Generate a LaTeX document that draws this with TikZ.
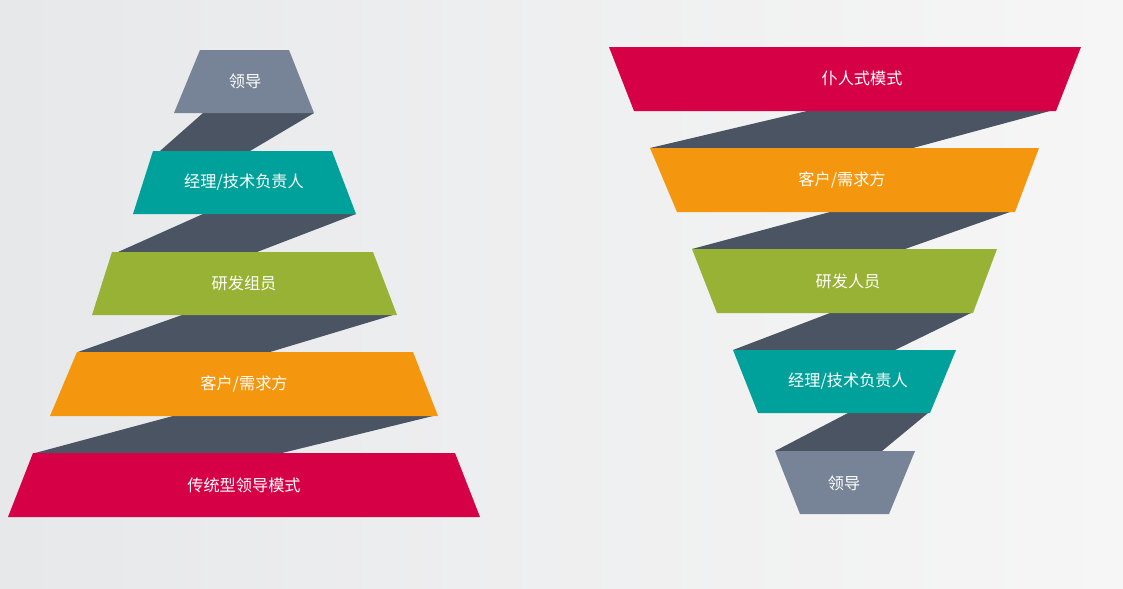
\documentclass[tikz,border=0pt]{standalone}
\usepackage{fontspec}
\newfontfamily\cjk{Noto Sans CJK SC}

\definecolor{bandgrey}{RGB}{119,131,150}
\definecolor{bandteal}{RGB}{0,161,154}
\definecolor{bandgreen}{RGB}{151,178,52}
\definecolor{bandorange}{RGB}{245,150,15}
\definecolor{bandred}{RGB}{213,0,69}
\definecolor{ribbon}{RGB}{74,84,98}
\definecolor{bgleft}{RGB}{231,232,234}
\definecolor{bgright}{RGB}{246,246,246}

\begin{document}
\begin{tikzpicture}[ x=0.025cm, y=-0.025cm,
    band/.style = { draw=none },
    fold/.style = { fill=ribbon, draw=none },
    label/.style = { text=white, font=\cjk\fontsize{11.5}{13}\selectfont, inner sep=0pt } ]

% Hintergrund

    \useasboundingbox (0 , 0) rectangle (1123 , 588);
    \shade[left color=bgleft, right color=bgright] (0 , 0) rectangle (1123 , 588);

% Pyramide links: Falten

    \fill[fold] (203 , 113) -- (314 , 113) -- (250 , 151) -- (160 , 151) -- cycle;
    \fill[fold] (203 , 214) -- (356 , 214) -- (257 , 252) -- (118 , 252) -- cycle;
    \fill[fold] (182 , 315) -- (393 , 315) -- (270 , 352) -- (78 , 352) -- cycle;
    \fill[fold] (173 , 416) -- (433 , 416) -- (282 , 453) -- (35 , 453) -- cycle;

% Pyramide links: Stufen

    \fill[band, bandgrey]   (200 , 50)  -- (289 , 50)  -- (314 , 113) -- (174 , 113) -- cycle;
    \fill[band, bandteal]   (153 , 151) -- (332 , 151) -- (356 , 214) -- (133 , 214) -- cycle;
    \fill[band, bandgreen]  (112 , 252) -- (373 , 252) -- (397 , 315) -- (92 , 315)  -- cycle;
    \fill[band, bandorange] (77 , 352)  -- (413 , 352) -- (438 , 416) -- (50 , 416)  -- cycle;
    \fill[band, bandred]    (33 , 453)  -- (455 , 453) -- (480 , 517) -- (8 , 517)   -- cycle;

    \node[label] (lead) at (245 , 81)  { 领导 };
    \node[label] (mgr)  at (244 , 182) { 经理/技术负责人 };
    \node[label] (dev)  at (244 , 283) { 研发组员 };
    \node[label] (cust) at (244 , 384) { 客户/需求方 };
    \node[label] (trad) at (244 , 485) { 传统型领导模式 };

% Trichter rechts: Falten

    \fill[fold] (807 , 111) -- (1050 , 111) -- (913 , 148) -- (650 , 148) -- cycle;
    \fill[fold] (830 , 212) -- (1010 , 212) -- (905 , 249) -- (692 , 249) -- cycle;
    \fill[fold] (830 , 313) -- (971 , 313)  -- (895 , 350) -- (733 , 350) -- cycle;
    \fill[fold] (848 , 413) -- (928 , 413)  -- (882 , 451) -- (775 , 451) -- cycle;

% Trichter rechts: Stufen

    \fill[band, bandred]    (609 , 47)  -- (1081 , 47)  -- (1056 , 111) -- (634 , 111) -- cycle;
    \fill[band, bandorange] (650 , 148) -- (1039 , 148) -- (1015 , 212) -- (677 , 212) -- cycle;
    \fill[band, bandgreen]  (692 , 249) -- (997 , 249)  -- (973 , 313)  -- (717 , 313) -- cycle;
    \fill[band, bandteal]   (733 , 350) -- (956 , 350)  -- (930 , 413)  -- (758 , 413) -- cycle;
    \fill[band, bandgrey]   (775 , 451) -- (915 , 451)  -- (889 , 514)  -- (800 , 514) -- cycle;

    \node[label] (servant) at (862 , 78)  { 仆人式模式 };
    \node[label] (rcust)   at (842 , 180) { 客户/需求方 };
    \node[label] (rdev)    at (848 , 281) { 研发人员 };
    \node[label] (rmgr)    at (848 , 381) { 经理/技术负责人 };
    \node[label] (rlead)   at (844 , 483) { 领导 };

\end{tikzpicture}
\end{document}
